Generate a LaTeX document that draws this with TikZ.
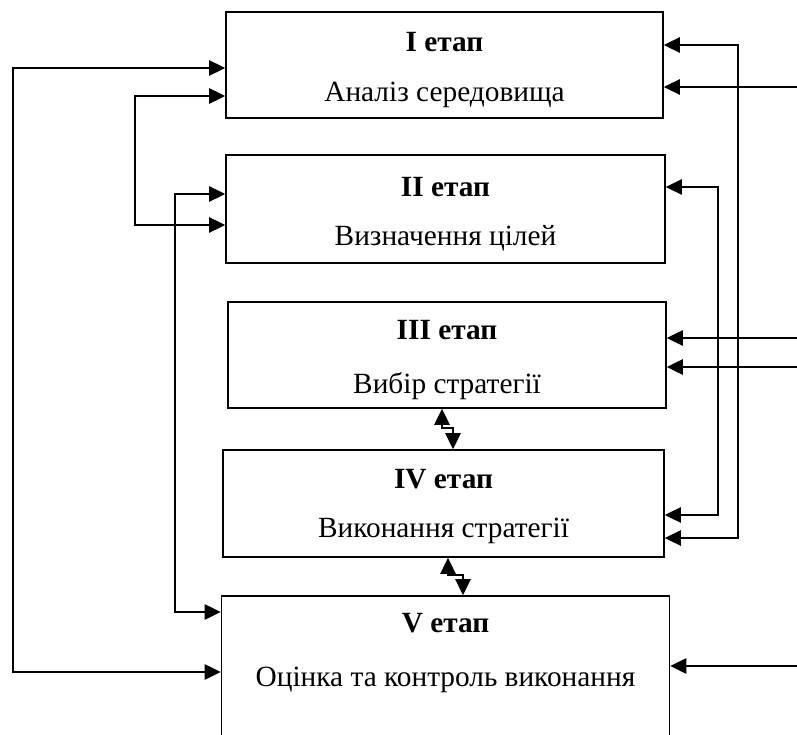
\documentclass[tikz,border=0pt]{standalone}
\usepackage{fontspec}
\setmainfont{Liberation Serif}
\usetikzlibrary{arrows.meta}

\begin{document}
\begin{tikzpicture}[x=0.75pt, y=-0.75pt, >={Triangle[length=12pt, width=11.5pt]},
  every node/.style={align=center, font=\fontsize{22}{37}\selectfont},
  stage/.style={draw, line width=1.2pt, inner sep=0pt, text height=59pt}]
  \path[use as bounding box, clip] (0,0) rectangle (797,735);

  \node[stage, minimum width=327.8pt, minimum height=79.5pt] (env) at (444.5,65) {\textbf{I етап}\\Аналіз середовища};
  \node[stage, minimum width=329.3pt, minimum height=81pt] (goals) at (445.5,209) {\textbf{II етап}\\Визначення цілей};
  \node[stage, minimum width=328.5pt, minimum height=79.5pt, text height=63pt] (choice) at (447,355) {\textbf{III етап}\\[4pt]Вибір стратегії};
  \node[stage, minimum width=330.8pt, minimum height=80.3pt, text height=56pt] (exec) at (443.5,503.5) {\textbf{IV етап}\\Виконання стратегії};
  \node[stage, minimum width=336pt, minimum height=111.8pt, text height=55.6pt, text depth=31pt] (ctrl) at (445.5,670.5) {\textbf{V етап}\\[4pt]Оцінка та контроль виконання};

  \coordinate (ext1) at (797,87);
  \coordinate (ext2) at (797,338);
  \coordinate (ext3) at (797,367);
  \coordinate (ext4) at (797,666);

  % left side feedback
  \draw[<->, line width=1.2pt] (env.west |- 0,68) -- ++(-212,0) |- (ctrl.west |- 0,672);
  \draw[<->, line width=1.2pt] (env.west |- 0,96) -- ++(-90,0) |- (goals.west |- 0,225);
  \draw[<->, line width=1.2pt] (goals.west |- 0,194) -- ++(-50,0) |- (ctrl.west |- 0,612);

  % right side feedback
  \draw[<->, line width=1.2pt] (env.east |- 0,45) -- ++(74,0) |- (exec.east |- 0,538);
  \draw[<->, line width=1.2pt] (goals.east |- 0,187) -- ++(52,0) |- (exec.east |- 0,515);

  % inputs from outside
  \draw[<-, line width=1.2pt] (env.east |- ext1) -- (ext1);
  \draw[<-, line width=1.2pt] (choice.east |- ext2) -- (ext2);
  \draw[<-, line width=1.2pt] (choice.east |- ext3) -- (ext3);
  \draw[<-, line width=1.2pt] (ctrl.east |- ext4) -- (ext4);

  % links between stages
  \draw[<->, line width=1.2pt] (choice.south -| 442,0) -- ++(0,19) -| (exec.north -| 453,0);
  \draw[<->, line width=1.2pt] (exec.south -| 448,0) -- ++(0,17) -| (ctrl.north -| 463,0);
\end{tikzpicture}
\end{document}
